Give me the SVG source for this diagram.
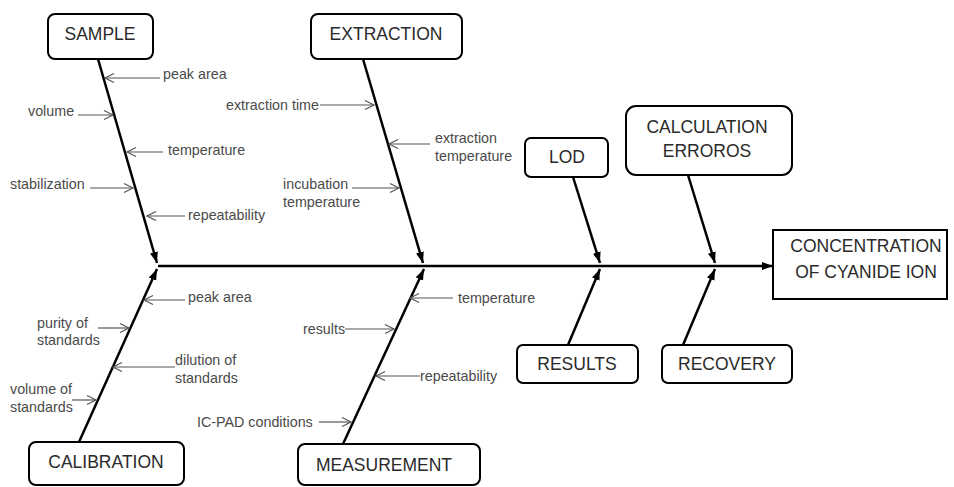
<svg xmlns="http://www.w3.org/2000/svg" width="954" height="487" viewBox="0 0 954 487">
<defs>
<marker id="solid" markerUnits="userSpaceOnUse" markerWidth="12" markerHeight="10" refX="11" refY="5" orient="auto">
<path d="M0,1 L11,5 L0,9 Z" fill="#000"/>
</marker>
<marker id="open" markerUnits="userSpaceOnUse" markerWidth="12" markerHeight="12" refX="10" refY="6" orient="auto">
<path d="M1,1.5 L10,6 L1,10.5" fill="none" stroke="#555" stroke-width="1.2"/>
</marker>
</defs>
<style>
.box{fill:#fff;stroke:#000;stroke-width:2}
.bt{font-family:"Liberation Sans",Arial,sans-serif;font-size:17.5px;fill:#2a2a2a;text-anchor:middle}
.lt{font-family:"Liberation Sans",Arial,sans-serif;font-size:14.3px;fill:#4a4a4a}
.bone{stroke:#000;stroke-width:2.5;fill:none;marker-end:url(#solid)}
.sub{stroke:#555;stroke-width:1.2;fill:none;marker-end:url(#open)}
</style>
<rect width="954" height="487" fill="#fff"/>
<g id="connectors">
<line class="bone" x1="158" y1="266" x2="773" y2="266"/>
<line class="bone" x1="98" y1="59" x2="157" y2="263"/>
<line class="bone" x1="363" y1="59" x2="423" y2="263"/>
<line class="bone" x1="573" y1="177" x2="600" y2="263"/>
<line class="bone" x1="688" y1="175" x2="715" y2="263"/>
<line class="bone" x1="79" y1="442" x2="157" y2="269"/>
<line class="bone" x1="343" y1="444" x2="424" y2="269"/>
<line class="bone" x1="568" y1="345" x2="600" y2="269"/>
<line class="bone" x1="683" y1="345" x2="715" y2="269"/>
<line class="sub" x1="160" y1="78" x2="105" y2="78"/>
<line class="sub" x1="78" y1="115" x2="113" y2="115"/>
<line class="sub" x1="163" y1="152" x2="127" y2="152"/>
<line class="sub" x1="90" y1="188" x2="133" y2="188"/>
<line class="sub" x1="185" y1="216" x2="147" y2="216"/>
<line class="sub" x1="320" y1="105" x2="374" y2="105"/>
<line class="sub" x1="430" y1="144" x2="389" y2="144"/>
<line class="sub" x1="352" y1="188" x2="399" y2="188"/>
<line class="sub" x1="185" y1="300" x2="144" y2="300"/>
<line class="sub" x1="98" y1="328" x2="129" y2="328"/>
<line class="sub" x1="175" y1="367" x2="113" y2="367"/>
<line class="sub" x1="72" y1="400" x2="96" y2="400"/>
<line class="sub" x1="453" y1="298" x2="410" y2="298"/>
<line class="sub" x1="345" y1="329" x2="394" y2="329"/>
<line class="sub" x1="420" y1="376" x2="376" y2="376"/>
<line class="sub" x1="319" y1="422" x2="351" y2="422"/>
</g>
<g id="sample"><rect class="box" x="48" y="14" width="105" height="45" rx="7"/><text class="bt" x="100" y="40">SAMPLE</text></g>
<g id="extraction"><rect class="box" x="311" y="14" width="151" height="45" rx="7"/><text class="bt" x="386" y="40">EXTRACTION</text></g>
<g id="lod"><rect class="box" x="525" y="138" width="83" height="39" rx="6"/><text class="bt" x="567" y="163">LOD</text></g>
<g id="calculation"><rect class="box" x="626" y="106" width="166" height="69" rx="10"/><text class="bt" x="707" y="133">CALCULATION</text><text class="bt" x="707" y="157">ERROROS</text></g>
<g id="concentration"><rect class="box" x="773" y="230" width="174" height="69"/><text class="bt" x="866" y="252">CONCENTRATION</text><text class="bt" x="866" y="278">OF CYANIDE ION</text></g>
<g id="results"><rect class="box" x="517" y="345" width="121" height="38" rx="6"/><text class="bt" x="577" y="370">RESULTS</text></g>
<g id="recovery"><rect class="box" x="662" y="345" width="130" height="38" rx="6"/><text class="bt" x="727" y="370">RECOVERY</text></g>
<g id="calibration"><rect class="box" x="29" y="442" width="155" height="43" rx="7"/><text class="bt" x="106" y="468">CALIBRATION</text></g>
<g id="measurement"><rect class="box" x="298" y="444" width="182" height="41" rx="7"/><text class="bt" x="384" y="471">MEASUREMENT</text></g>
<g id="labels">
<text class="lt" x="163" y="79">peak area</text>
<text class="lt" x="28" y="116">volume</text>
<text class="lt" x="168" y="155">temperature</text>
<text class="lt" x="10" y="189">stabilization</text>
<text class="lt" x="188" y="220">repeatability</text>
<text class="lt" x="226" y="110">extraction time</text>
<text class="lt" x="435" y="143">extraction</text>
<text class="lt" x="435" y="161">temperature</text>
<text class="lt" x="283" y="189">incubation</text>
<text class="lt" x="283" y="207">temperature</text>
<text class="lt" x="188" y="302">peak area</text>
<text class="lt" x="37" y="328">purity of</text>
<text class="lt" x="37" y="345">standards</text>
<text class="lt" x="175" y="365">dilution of</text>
<text class="lt" x="175" y="383">standards</text>
<text class="lt" x="10" y="394">volume of</text>
<text class="lt" x="10" y="412">standards</text>
<text class="lt" x="458" y="303">temperature</text>
<text class="lt" x="303" y="334">results</text>
<text class="lt" x="420" y="381">repeatability</text>
<text class="lt" x="197" y="427">IC-PAD conditions</text>
</g>
</svg>
